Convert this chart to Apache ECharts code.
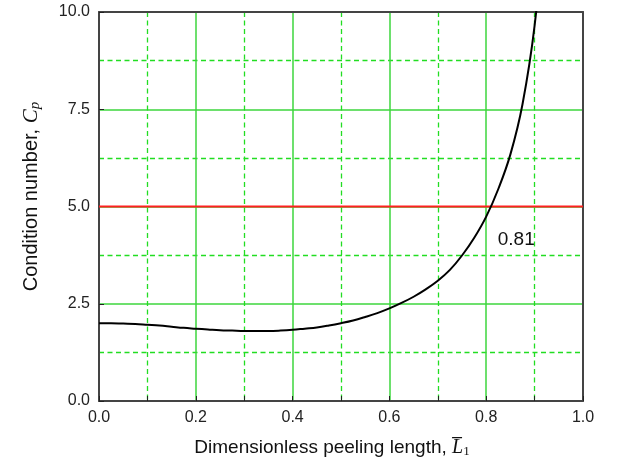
<!DOCTYPE html>
<html>
<head>
<meta charset="utf-8">
<script src="https://cdn.jsdelivr.net/npm/echarts@6/dist/echarts.min.js"></script>
<style>
  html, body { margin: 0; padding: 0; background: #fff; }
  #chart { width: 617px; height: 465px; }
</style>
</head>
<body>
<div id="chart"></div>
<script>
// curve, every 0.025 in L1
const lengthValues = [0, 0.025, 0.05, 0.075, 0.1, 0.125, 0.15, 0.175, 0.2, 0.225, 0.25, 0.275, 0.3, 0.325, 0.35, 0.375, 0.4, 0.425, 0.45, 0.475, 0.5, 0.525, 0.55, 0.575, 0.6, 0.625, 0.65, 0.675, 0.7, 0.725, 0.75, 0.775, 0.8, 0.825, 0.85, 0.875, 0.9, 0.925];
const conditionValues = [2.0, 2.0, 1.99, 1.98, 1.96, 1.94, 1.91, 1.88, 1.86, 1.84, 1.82, 1.81, 1.8, 1.8, 1.8, 1.81, 1.83, 1.86, 1.89, 1.94, 2.0, 2.07, 2.16, 2.26, 2.38, 2.52, 2.68, 2.87, 3.09, 3.37, 3.74, 4.19, 4.74, 5.45, 6.34, 7.63, 9.65, 12.9];
const limitLine = [[0, 5], [1, 5]];
const crossingLabel = { text: '0.81', at: [0.862, 4.14] };
const xTicks = [0, 0.2, 0.4, 0.6, 0.8, 1.0];
const yTicks = [0, 2.5, 5.0, 7.5, 10.0];

const sans = '"Liberation Sans", Arial, sans-serif';
const serif = '"Liberation Serif", "Times New Roman", serif';
const frame = '#444';
const majorGreen = '#3cd63c';
const minorGreen = '#22dd22';

const curve = lengthValues.map((x, i) => [x, conditionValues[i]]);

const chart = echarts.init(document.getElementById('chart'), null, { renderer: 'canvas' });

const baseAxis = {
  type: 'value',
  axisLine: { show: true, onZero: false, lineStyle: { color: frame, width: 2 } },
  axisTick: { show: true, inside: true, length: 5, lineStyle: { color: '#222', width: 1 } },
  axisLabel: { color: '#222', fontSize: 16, fontFamily: sans, formatter: v => v.toFixed(1) },
  splitLine: { show: true, showMinLine: false, showMaxLine: false, lineStyle: { color: majorGreen, width: 1.5 } },
  minorSplitLine: { show: true, lineStyle: { color: minorGreen, width: 1.3, type: [5, 3.5] } }
};

// top and right edges of the box
const frameAxis = {
  type: 'value',
  axisLine: { show: true, onZero: false, lineStyle: { color: frame, width: 2 } },
  axisTick: { show: false },
  axisLabel: { show: false },
  splitLine: { show: false }
};

chart.setOption({
  animation: false,
  backgroundColor: '#fff',
  grid: { left: 99, right: 34, top: 12, bottom: 64 },
  xAxis: [
    {
      ...baseAxis,
      min: xTicks[0],
      max: xTicks[xTicks.length - 1],
      interval: 0.2,
      minorTick: { show: true, splitNumber: 2, length: 5, lineStyle: { color: '#222', width: 1 } },
      axisLabel: { ...baseAxis.axisLabel, margin: 9 },
      name: 'Dimensionless peeling length, {it|L\u0305}{sub|1}',
      nameLocation: 'middle',
      nameGap: 36,
      nameTextStyle: {
        color: '#111', fontSize: 19, fontFamily: sans, padding: [0, 18, 0, 0],
        rich: {
          it: { fontFamily: serif, fontStyle: 'italic', fontSize: 20, color: '#111' },
          sub: { fontFamily: serif, fontSize: 13, verticalAlign: 'bottom', padding: [8, 0, 0, 0], color: '#111' }
        }
      }
    },
    { ...frameAxis, position: 'top', min: 0, max: 1 }
  ],
  yAxis: [
    {
      ...baseAxis,
      min: yTicks[0],
      max: yTicks[yTicks.length - 1],
      interval: 2.5,
      minorTick: { show: false, splitNumber: 2 },
      axisLabel: { ...baseAxis.axisLabel, margin: 9 },
      name: 'Condition number, {it|C}{sub|p}',
      nameLocation: 'middle',
      nameRotate: 90,
      nameGap: 56,
      nameTextStyle: {
        color: '#111', fontSize: 20, fontFamily: sans, padding: [0, 0, 0, 20],
        rich: {
          it: { fontFamily: serif, fontStyle: 'italic', fontSize: 21, color: '#111' },
          sub: { fontFamily: serif, fontStyle: 'italic', fontSize: 15, verticalAlign: 'bottom', padding: [8, 0, 0, 0], color: '#111' }
        }
      }
    },
    { ...frameAxis, position: 'right', min: 0, max: 10 }
  ],
  series: [
    {
      type: 'line',
      data: limitLine,
      symbol: 'none',
      lineStyle: { color: '#ff2020', width: 2 },
      z: 3
    },
    {
      type: 'line',
      data: curve,
      symbol: 'none',
      smooth: 0.4,
      clip: true,
      lineStyle: { color: '#000', width: 2 },
      z: 4
    },
    {
      type: 'scatter',
      data: [crossingLabel.at],
      symbolSize: 0,
      itemStyle: { opacity: 1 },
      label: {
        show: true,
        position: 'inside',
        formatter: crossingLabel.text,
        color: '#111',
        fontSize: 19,
        fontFamily: sans
      },
      z: 5
    }
  ]
});
</script>
</body>
</html>
